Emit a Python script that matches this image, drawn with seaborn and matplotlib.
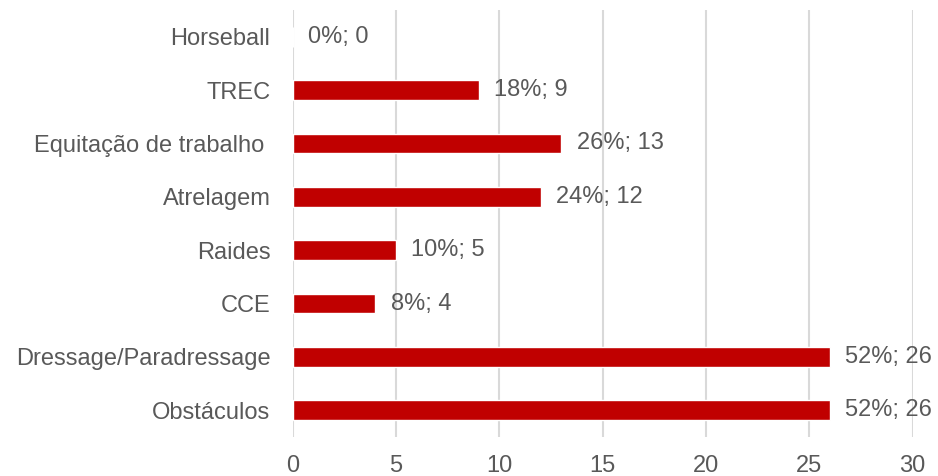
import pandas as pd
import matplotlib.pyplot as plt
import seaborn as sns

sns.set_style("white")
plt.rcParams['font.family'] = ['Liberation Sans', 'DejaVu Sans']

categorias = ['Horseball', 'TREC', 'Equitação de trabalho ', 'Atrelagem', 'Raides',
              'CCE', 'Dressage/Paradressage', 'Obstáculos']
valores = [0, 9, 13, 12, 5, 4, 26, 26]
percentagens = [0, 18, 26, 24, 10, 8, 52, 52]

df = pd.DataFrame({'modalidade': categorias, 'n': valores})

cinza = '#595959'
fig, ax = plt.subplots(figsize=(9.38, 4.76), dpi=100)
fig.subplots_adjust(left=0.312, right=0.973, top=0.979, bottom=0.082)

sns.barplot(data=df, x='n', y='modalidade', orient='h', color='#C00000',
            saturation=1, width=0.37, ax=ax, zorder=3)

etiquetas = ['%d%%; %d' % (p, v) for p, v in zip(percentagens, valores)]
ax.bar_label(ax.containers[0], labels=etiquetas, padding=11, fontsize=17, color=cinza)

ax.set_xlim(0, 30)
ax.set_xticks([0, 5, 10, 15, 20, 25, 30])
ax.set_ylim(7.5, -0.5)
ax.xaxis.grid(True, color='#d9d9d9', linewidth=1.5, zorder=0)
ax.set_axisbelow(True)
for s in ax.spines.values():
    s.set_visible(False)
ax.set_xlabel('')
ax.set_ylabel('')
ax.tick_params(axis='y', length=0, pad=16, labelsize=17, labelcolor=cinza)
ax.tick_params(axis='x', length=0, pad=13, labelsize=17, labelcolor=cinza)

plt.savefig('out.png', dpi=100)
